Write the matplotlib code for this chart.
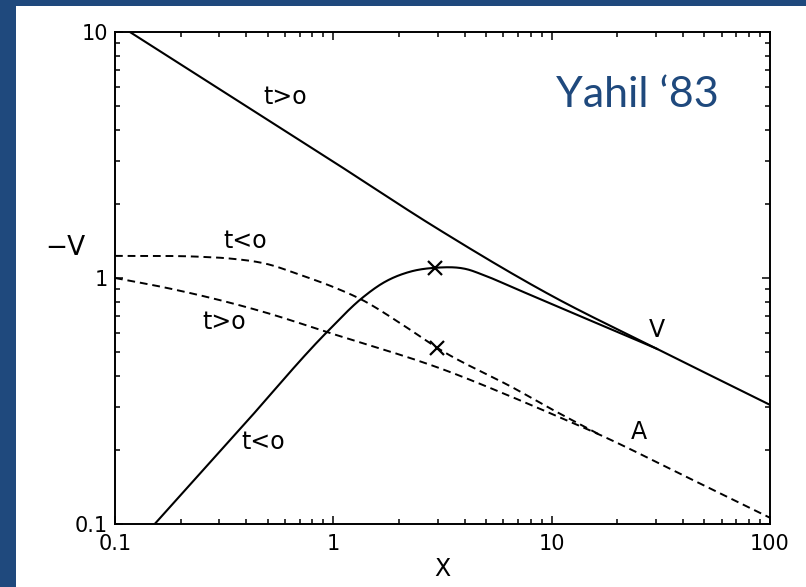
import numpy as np
import matplotlib.pyplot as plt
from matplotlib.patches import Rectangle
from matplotlib.ticker import LogLocator, FuncFormatter, NullFormatter

# -V(X) self-similar solutions, t>0 and t<0 branches
x_v_pos = [0.117, 0.452, 1.0, 2.92, 9.85, 30.4, 100.0]
v_v_pos = [10.0, 4.65, 2.97, 1.61, 0.853, 0.515, 0.305]

x_v_neg = [0.152, 0.386, 0.935, 1.354, 1.69, 2.24, 2.92, 4.10, 4.85, 6.94, 9.85, 13.9, 19.9, 30.4]
v_v_neg = [0.1, 0.251, 0.603, 0.829, 0.955, 1.06, 1.10, 1.085, 1.03, 0.900, 0.788, 0.692, 0.605, 0.515]

# A(X) curves (dashed); the t<0 branch joins the t>0 one near X~17
x_a_neg = [0.1, 0.245, 0.336, 0.497, 0.704, 1.0, 1.354, 2.02, 2.99, 6.94, 9.85, 16.7]
a_a_neg = [1.23, 1.22, 1.20, 1.14, 1.03, 0.919, 0.815, 0.656, 0.52, 0.351, 0.295, 0.230]

x_a_pos = [0.1, 0.173, 0.497, 0.935, 3.42, 5.80, 9.85, 16.7, 41.7, 100.0]
a_a_pos = [1.0, 0.911, 0.721, 0.603, 0.415, 0.344, 0.282, 0.230, 0.155, 0.106]

# sonic points
x_cross = [2.92, 2.99]
y_cross = [1.10, 0.52]

blue = '#1f497d'


def smooth(x, y, n=30):
    # cubic Hermite through the points in log-log space
    lx, ly = np.log10(x), np.log10(y)
    m = np.gradient(ly, lx)
    xs, ys = [], []
    for i in range(len(lx) - 1):
        h = lx[i + 1] - lx[i]
        t = np.linspace(0, 1, n, endpoint=False)
        h00 = 2 * t ** 3 - 3 * t ** 2 + 1
        h10 = t ** 3 - 2 * t ** 2 + t
        h01 = -2 * t ** 3 + 3 * t ** 2
        h11 = t ** 3 - t ** 2
        xs.append(lx[i] + h * t)
        ys.append(h00 * ly[i] + h10 * h * m[i] + h01 * ly[i + 1] + h11 * h * m[i + 1])
    xs.append([lx[-1]])
    ys.append([ly[-1]])
    return 10 ** np.concatenate(xs), 10 ** np.concatenate(ys)


fig = plt.figure(figsize=(8.06, 5.87), dpi=100)
fig.patch.set_facecolor(blue)
fig.patches.append(Rectangle((16 / 806, 0), 1, 1 - 6 / 587, transform=fig.transFigure,
                             facecolor='white', edgecolor='none', zorder=-10))

ax = fig.add_axes([115 / 806, 1 - 524 / 587, 655 / 806, 492 / 587])
ax.set_xscale('log')
ax.set_yscale('log')
ax.set_xlim(0.1, 100)
ax.set_ylim(0.1, 10)
ax.patch.set_alpha(0)

ax.plot(*smooth(x_v_pos, v_v_pos), color='black', lw=1.5)
ax.plot(*smooth(x_v_neg, v_v_neg), color='black', lw=1.5)
ax.plot(*smooth(x_a_neg, a_a_neg), color='black', lw=1.4, dashes=(4, 2.5))
ax.plot(*smooth(x_a_pos, a_a_pos), color='black', lw=1.4, dashes=(4, 2.5))
ax.plot(x_cross, y_cross, 'x', color='black', ms=10, mew=1.6)

lab = dict(fontsize=17, ha='center', va='center')
ax.text(0.601, 5.44, 't>o', **lab)
ax.text(0.394, 1.41, 't<o', **lab)
ax.text(0.316, 0.663, 't>o', **lab)
ax.text(0.476, 0.215, 't<o', **lab)
ax.text(30.4, 0.615, 'V', **lab)
ax.text(25.1, 0.237, 'A', **lab)

ax.text(637, 587 - 95, 'Yahil \u201883', transform=None, color=blue,
        fontsize=31, family='Lato', ha='center', va='center')

fmt = FuncFormatter(lambda v, p: '%g' % v)
for axis in (ax.xaxis, ax.yaxis):
    axis.set_major_locator(LogLocator(base=10))
    axis.set_minor_locator(LogLocator(base=10, subs=range(2, 10)))
    axis.set_major_formatter(fmt)
    axis.set_minor_formatter(NullFormatter())

ax.tick_params(which='both', direction='in', top=True, right=True, width=1.1,
               labelsize=15)
ax.tick_params(which='major', length=6)
ax.tick_params(which='minor', length=3.5)
ax.tick_params(axis='x', pad=7)
ax.tick_params(axis='y', pad=5)
for s in ax.spines.values():
    s.set_linewidth(1.4)

ax.set_xlabel('X', fontsize=17, labelpad=2)
ax.text(65, 587 - 248, '\u2212V', transform=None, fontsize=19, ha='center', va='center')

fig.savefig('out.png', dpi=100, facecolor=fig.get_facecolor())
